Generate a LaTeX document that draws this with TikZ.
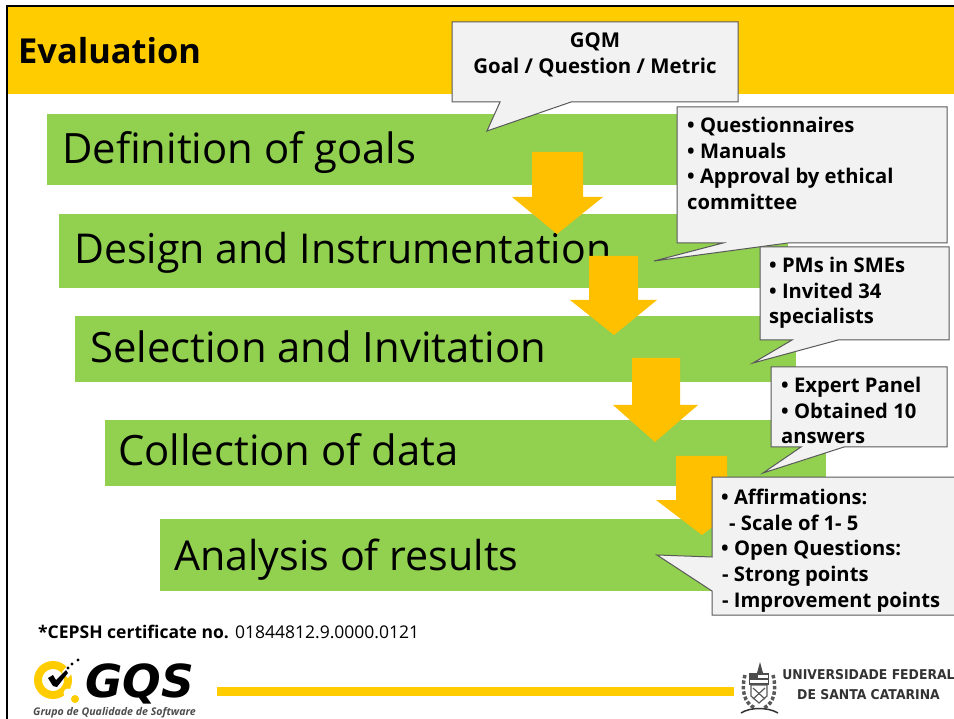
\documentclass[tikz,border=0pt]{standalone}
\usepackage{fontspec}
\setmainfont{Open Sans}
\newfontfamily\logofont{DejaVu Sans}
\usepackage{tikz}
\usetikzlibrary{positioning}

\definecolor{headyellow}{HTML}{FFCC00}
\definecolor{bargreen}{HTML}{92D050}
\definecolor{arrowyellow}{HTML}{FFC000}
\definecolor{notegray}{HTML}{F2F2F2}
\definecolor{noteline}{HTML}{595959}

\tikzset{
    stepbar/.style={fill=bargreen,draw=none},
    steptext/.style={anchor=base west,inner sep=0pt,font=\fontsize{41.8}{50}\selectfont},
    downarrow/.style={fill=arrowyellow,draw=none},
    note/.style={fill=notegray,draw=noteline,line width=1pt,line join=miter},
    notetext/.style={anchor=north west,inner sep=0pt,align=left,font=\fontsize{20.2}{25.6}\selectfont\bfseries},
    frameline/.style={draw=black,line width=2.5pt},
    crestpart/.style={draw=black!65,line width=1.2pt}
}

\begin{document}
\begin{tikzpicture}[x=1pt,y=-1pt]
    \useasboundingbox (0,0) rectangle (954,719);
    \clip (0,0) rectangle (954,719);

    % header
    \fill[headyellow] (8,7) rectangle (954,94);
    \coordinate (frametop) at (7,6);
    \coordinate (frameright) at (954,6);
    \coordinate (framebottom) at (7,719);
    \draw[frameline] (framebottom) -- (frametop) -- (frameright);
    \node[anchor=west,inner sep=0pt,font=\fontsize{34.4}{42}\selectfont\bfseries] (title) at (18,51) {Evaluation};

    % steps
    \fill[stepbar] (47,114) rectangle (760,185);
    \fill[stepbar] (59,214) rectangle (788,288);
    \fill[stepbar] (75,316) rectangle (796,382);
    \fill[stepbar] (105,420) rectangle (826,486);
    \fill[stepbar] (160,519) rectangle (800,591);
    \node[steptext] (goals) at (62,164) {Definition of goals};
    \node[steptext,font=\fontsize{41.1}{50}\selectfont] (design) at (74,264) {Design and Instrumentation};
    \node[steptext] (selection) at (90,363) {Selection and Invitation};
    \node[steptext] (collection) at (118,466) {Collection of data};
    \node[steptext,font=\fontsize{41.2}{50}\selectfont] (analysis) at (174,570) {Analysis of results};

    % arrows between steps
    \fill[downarrow] (532,152) -- (583,152) -- (583,197) -- (603,197) -- (557,234) -- (512,197) -- (532,197) -- cycle;
    \fill[downarrow] (589,256) -- (638,256) -- (638,300) -- (657,300) -- (614,335) -- (570,300) -- (589,300) -- cycle;
    \fill[downarrow] (632,358) -- (680,358) -- (680,405) -- (698,405) -- (655,442) -- (613,405) -- (632,405) -- cycle;
    \fill[downarrow] (676,456) -- (727,456) -- (727,500) -- (748,500) -- (702,535) -- (656,500) -- (676,500) -- cycle;

    % notes
    \draw[note] (452,22) -- (738,22) -- (738,102) -- (571,102) -- (487,131) -- (500,102) -- (452,102) -- cycle;
    \node[inner sep=0pt,align=center,font=\fontsize{20.4}{25.6}\selectfont\bfseries] (gqm) at (595,55) {GQM\\Goal / Question / Metric};

    \draw[note] (677,107) -- (947,107) -- (947,243) -- (788,243) -- (654,261) -- (723,243) -- (677,243) -- cycle;
    \node[notetext] (instruments) at (687,117) {• Questionnaires\\• Manuals\\• Approval by ethical\\committee};

    \draw[note] (760,247) -- (949,247) -- (949,340) -- (838,340) -- (753,363) -- (792,340) -- (760,340) -- cycle;
    \node[notetext] (specialists) at (769,257) {• PMs in SMEs\\• Invited 34\\specialists};

    \draw[note] (771,367) -- (947,367) -- (947,447) -- (844,447) -- (763,473) -- (801,447) -- (771,447) -- cycle;
    \node[notetext] (panel) at (781,377) {• Expert Panel\\• Obtained 10\\answers};

    \draw[note] (712,477) -- (960,477) -- (960,615) -- (712,615) -- (712,591) -- (657,555) -- (712,557) -- cycle;
    \node[notetext] (questions) at (721,489) {• Affirmations:\\\hspace{8pt}- Scale of 1- 5\\• Open Questions:\\\hspace{1pt}- Strong points\\\hspace{1pt}- Improvement points};

    % footer
    \node[anchor=west,inner sep=0pt,font=\fontsize{17.5}{21}\selectfont] (cepsh) at (38,632) {\textbf{*CEPSH certificate no.} 01844812.9.0000.0121};
    \fill[headyellow] (217,687) rectangle (734,696);

    % logo
    \draw[headyellow,line width=8pt] (53,680) circle (15);
    \fill[white] (62,672) -- (72,660) -- (78,666) -- (68,678) -- cycle;
    \fill[white] (68,693) circle (4.5);
    \fill[headyellow] (75,699) circle (4);
    \fill[black] (48,678) -- (53,675) -- (56,680) -- (66,670) -- (68,673) -- (57,687) -- (53,686) -- cycle;
    \foreach \dotx/\doty in {68/668,72/664,78/660}
        \fill[black] (\dotx,\doty) circle (1.6);
    \node[inner sep=0pt,font=\logofont\fontsize{45.5}{50}\selectfont\bfseries\itshape] (gqs) at (140,684) {GQS};
    \node[anchor=west,inner sep=0pt,font=\fontsize{10.6}{13}\selectfont\bfseries\itshape,text=black!70] (gqsname) at (33,713) {Grupo de Qualidade de Software};

    % crest
    \fill[black!70] (760,662) -- (763,673) -- (757,673) -- cycle;
    \fill[black!70] (749,673) rectangle (769,685);
    \fill[white] (758,675) rectangle (768,678);
    \fill[white] (750,680) rectangle (768,683);
    \draw[crestpart] (751,685) -- (767,685) -- (767,696) -- (759,703) -- (751,696) -- cycle;
    \draw[crestpart] (753,688) -- (765,699);
    \draw[crestpart] (765,688) -- (753,699);
    \draw[black!65,line width=3.5pt,dotted] (745,675) .. controls (741,690) and (744,703) .. (755,708);
    \draw[black!65,line width=3.5pt,dotted] (773,675) .. controls (777,690) and (774,703) .. (764,708);
    \draw[black!80,line width=1.5pt] (741,713) .. controls (750,707) and (768,707) .. (778,713);
    \node[inner sep=0pt,align=center,xscale=0.92,transform shape,font=\logofont\fontsize{13.5}{20}\selectfont\bfseries,text=black!80] (ufsc) at (868.5,685) {UNIVERSIDADE FEDERAL\\DE SANTA CATARINA};
\end{tikzpicture}
\end{document}
